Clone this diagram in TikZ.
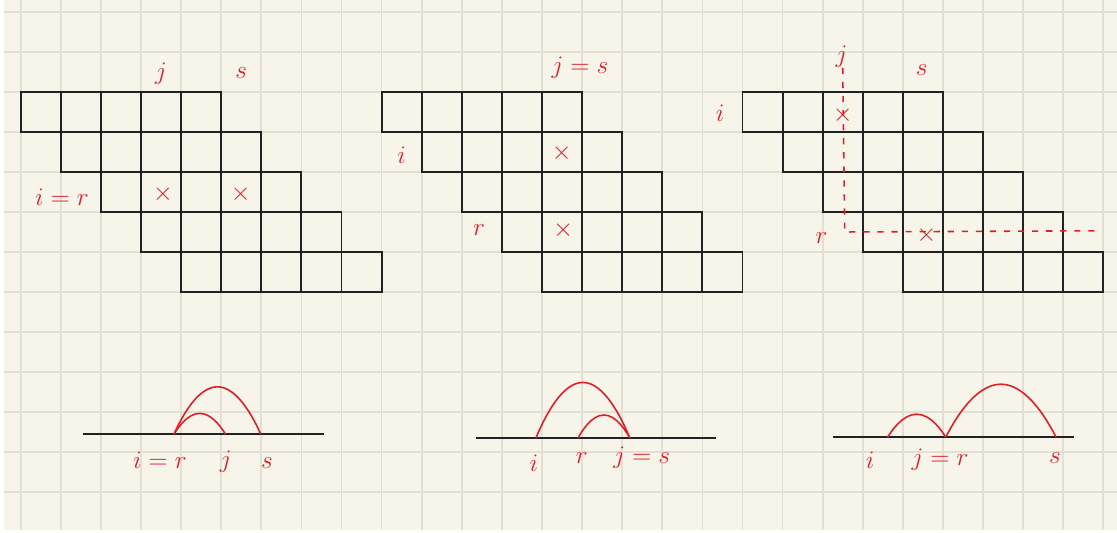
\documentclass[tikz,border=0pt]{standalone}
\usetikzlibrary{calc}
\definecolor{paper}{RGB}{247,245,234}
\definecolor{gridgray}{RGB}{226,224,212}
\definecolor{pen}{RGB}{225,30,40}
\definecolor{ink}{RGB}{34,34,34}
\tikzset{
  gridline/.style={gridgray, line width=1pt},
  cell/.style={ink, line width=1.1pt},
  redlabel/.style={pen, font=\Large, inner sep=0pt},
  cross/.style={pen, font=\Large, inner sep=0pt},
  cutline/.style={pen, line width=0.9pt, dash pattern=on 3.5pt off 4.5pt},
  axisline/.style={ink, line width=1.1pt},
  arcline/.style={pen, line width=0.9pt},
}
\begin{document}
\begin{tikzpicture}[x=0.802cm, y=0.8cm]
% paper
\fill[white] (-0.516,-11.025) rectangle (27.34,2.3);
\fill[paper] (-0.416,-10.95) rectangle (27.34,2.3);
\useasboundingbox (-0.516,-11.025) rectangle (27.34,2.3);
\foreach \gx in {0,...,27} \draw[gridline] (\gx,-10.95) -- (\gx,2.3);
\foreach \gy in {-10,...,2} \draw[gridline] (-0.416,\gy) -- (27.34,\gy);

% the three skew shapes
\foreach \off in {0,9,18}
  \foreach \r in {0,...,4}
    \foreach \c in {0,...,4}
      \draw[cell] (\off+\r+\c,-\r) rectangle ++(1,-1);

% shape 1
\node[redlabel] (j1) at (3.5,0.45) {$j$};
\node[redlabel] (s1) at (5.5,0.47) {$s$};
\node[redlabel] (ir1) at (1.03,-2.62) {$i=r$};
\node[cross] (x1a) at (3.55,-2.55) {$\times$};
\node[cross] (x1b) at (5.49,-2.55) {$\times$};

% shape 2
\node[redlabel] (js2) at (13.95,0.62) {$j=s$};
\node[redlabel] (i2) at (9.5,-1.575) {$i$};
\node[cross] (x2a) at (13.49,-1.525) {$\times$};
\node[redlabel] (r2) at (11.43,-3.45) {$r$};
\node[cross] (x2b) at (13.53,-3.45) {$\times$};

% shape 3
\node[redlabel] (j3) at (20.47,0.88) {$j$};
\node[redlabel] (s3) at (22.47,0.55) {$s$};
\node[redlabel] (i3) at (17.44,-0.525) {$i$};
\node[cross] (x3a) at (20.5,-0.575) {$\times$};
\node[redlabel] (r3) at (19.97,-3.65) {$r$};
\node[cross] (x3b) at (22.59,-3.575) {$\times$};
\coordinate (bend3) at (20.55,-3.5);
\coordinate (end3) at (26.79,-3.47);
\draw[cutline] (x3a |- j3.south) -- (bend3) -- (end3);

% arcs 1
\coordinate (a1l) at (1.56,-8.56);
\coordinate (a1r) at (7.56,-8.56);
\coordinate (a1i) at (3.82,-8.56);
\coordinate (a1j) at (5.11,-8.56);
\coordinate (a1s) at (5.99,-8.56);
\draw[axisline] (a1l) -- (a1r);
\draw[arcline] (a1i) parabola bend ($(a1i)!.5!(a1s)+(0,1.19)$) (a1s);
\draw[arcline] (a1i) parabola bend ($(a1i)!.5!(a1j)+(0,0.525)$) (a1j);
\node[redlabel] (l1ir) at (3.47,-9.2) {$i=r$};
\node[redlabel] (l1j) at (5.11,-9.24) {$j$};
\node[redlabel] (l1s) at (6.14,-9.28) {$s$};

% arcs 2
\coordinate (a2l) at (11.35,-8.65);
\coordinate (a2r) at (17.34,-8.65);
\coordinate (a2i) at (12.85,-8.65);
\coordinate (a2r0) at (13.9,-8.65);
\coordinate (a2js) at (15.19,-8.65);
\draw[axisline] (a2l) -- (a2r);
\draw[arcline] (a2i) parabola bend ($(a2i)!.5!(a2js)+(0,1.39)$) (a2js);
\draw[arcline] (a2r0) parabola bend ($(a2r0)!.5!(a2js)+(0,0.575)$) (a2js);
\node[redlabel] (l2i) at (12.8,-9.28) {$i$};
\node[redlabel] (l2r) at (13.99,-9.15) {$r$};
\node[redlabel] (l2js) at (15.49,-9.15) {$j=s$};

% arcs 3
\coordinate (a3l) at (20.26,-8.63);
\coordinate (a3r) at (26.27,-8.63);
\coordinate (a3i) at (21.62,-8.63);
\coordinate (a3jr) at (23.07,-8.63);
\coordinate (a3s) at (25.82,-8.63);
\draw[axisline] (a3l) -- (a3r);
\draw[arcline] (a3i) parabola bend ($(a3i)!.5!(a3jr)+(0,0.575)$) (a3jr);
\draw[arcline] (a3jr) parabola bend ($(a3jr)!.5!(a3s)+(0,1.325)$) (a3s);
\node[redlabel] (l3i) at (21.18,-9.2) {$i$};
\node[redlabel] (l3jr) at (22.93,-9.2) {$j=r$};
\node[redlabel] (l3s) at (25.79,-9.15) {$s$};
\end{tikzpicture}
\end{document}
